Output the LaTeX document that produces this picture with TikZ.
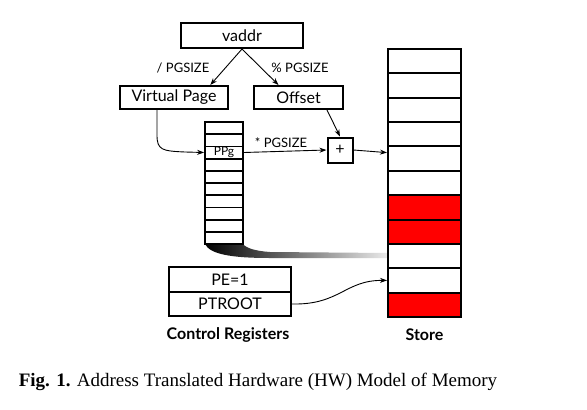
\documentclass[tikz,border=0pt]{standalone}
\usepackage{fontspec}
\setmainfont{Liberation Serif}
\newfontfamily\gill{Lato}
\usetikzlibrary{arrows.meta,calc}
\begin{document}
\begin{tikzpicture}[x=1pt,y=-1pt,
  box/.style={draw,line width=2pt,inner sep=0pt,font=\gill\fontsize{16}{16}\selectfont},
  cell/.style={draw,line width=2pt,inner sep=0pt,minimum width=73pt,minimum height=24.36pt},
  ptcell/.style={draw,line width=1.8pt,inner sep=0pt,minimum width=38pt,minimum height=12.2pt},
  conn/.style={line width=0.9pt,-{Stealth[length=7pt,width=5pt]}},
  lab/.style={inner sep=0pt,font=\gill\fontsize{13}{13}\selectfont},
  title/.style={inner sep=0pt,font=\gill\bfseries\fontsize{16}{16}\selectfont}]
\useasboundingbox[fill=white] (0,0) rectangle (587,410);

% top boxes
\node[box,minimum width=122pt,minimum height=25pt] (vaddr) at (242,35.5) {vaddr};
\node[box,minimum width=108pt,minimum height=23pt] (vp) at (174,97.5) {Virtual Page};
\node[box,minimum width=89pt,minimum height=23pt] (off) at (298.5,97.5) {Offset};
\node[box,minimum width=25pt,minimum height=25pt] (plus) at (340,150) {+};

% shading band from page table to store
\shade[left color=black,right color=black!8]
  (205,244) .. controls (210,254) and (230,258) .. (270,258) -- (388,258)
  -- (388,253) -- (270,252) .. controls (255,251) and (246,248) .. (243,244) -- cycle;

% page table
\foreach \i in {1,...,10}
  \node[ptcell,fill=white] (p\i) at (224,{122+12.2*(\i-0.5)}) {};
\node[inner sep=0pt,font=\gill\fontsize{12}{12}\selectfont] (ppg) at (p3.center) {PPg};

% store
\foreach \i/\c in {1/white,2/white,3/white,4/white,5/white,6/white,7/red,8/red,9/white,10/white,11/red}
  \node[cell,fill=\c] (s\i) at (424.5,{49+24.36*(\i-0.5)}) {};

% control registers
\node[box,minimum width=122pt,minimum height=25pt] (pe) at (230,279.5) {PE=1};
\node[box,minimum width=122pt,minimum height=24pt] (ptroot) at (230,304) {PTROOT};

\node[title] (cr) at (228,335) {Control Registers};
\node[title] (st) at (424.5,335) {Store};

% connectors
\draw[conn] (vaddr.south) -- (vp.19);
\draw[conn] (vaddr.south) -- (off.148);
\node[lab] (l1) at (183,68) {/ PGSIZE};
\node[lab] (l2) at (300,68) {\% PGSIZE};

\draw[conn] ($(vp.south)+(-17,0)$) -- (157,135) .. controls (157,150) and (162,151) .. (185,152) -- (p3.west);
\draw[conn] (p3.east) -- (plus.west);
\node[lab] (l3) at (281,143) {* PGSIZE};
\draw[conn] ($(off.south)+(28.5,0)$) -- (plus.north);
\draw[conn] (plus.east) -- ($(s5.west)+(0,-6)$);
\draw[conn] (ptroot.east) .. controls (340,305) and (345,280) .. (s10.west);

% caption
\node[inner sep=0pt,font=\fontsize{19}{19}\selectfont] (cap) at (258,382)
  {\textbf{Fig. 1.} Address Translated Hardware (HW) Model of Memory};
\end{tikzpicture}
\end{document}
